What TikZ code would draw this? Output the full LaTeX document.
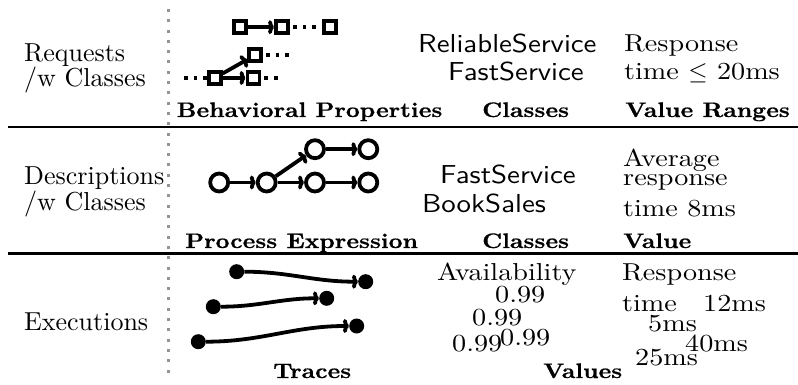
\documentclass[tikz,border=0pt]{standalone}
\usepackage{fontspec}
\setmainfont{lmroman10-regular.otf}[BoldFont=lmroman10-bold.otf]
\newfontfamily\valrm{lmroman10-regular.otf}[FakeStretch=1.15]
\newfontfamily\clssf{lmsans10-regular.otf}[FakeStretch=1.11]
\newfontfamily\capbf{lmroman10-bold.otf}[FakeStretch=1.15,FakeBold=0.6]
\usetikzlibrary{arrows.meta}
\newcommand\rowfont{\fontsize{26}{25}\selectfont}
\newcommand\valfont{\valrm\fontsize{24.5}{27.6}\selectfont}
\newcommand\clsfont{\clssf\fontsize{26}{28}\selectfont}
\newcommand\capfont{\capbf\fontsize{21}{20}\selectfont}
\begin{document}
\begin{tikzpicture}[x=1pt,y=-1pt,
  rowlbl/.style={font=\rowfont, inner sep=0pt, anchor=base west, align=left},
  clstxt/.style={font=\clsfont, inner sep=0pt, anchor=base west},
  valtxt/.style={font=\valfont, inner sep=0pt, anchor=base west, align=left},
  captxt/.style={font=\capfont, inner sep=0pt, anchor=base west},
  sqnode/.style={draw, line width=3.8pt, minimum size=12pt, inner sep=0pt},
  circnode/.style={draw, circle, line width=3.8pt, minimum size=18pt, inner sep=0pt},
  dotnode/.style={fill, circle, minimum size=15pt, inner sep=0pt},
  arr/.style={line width=3.8pt, -{To[length=6pt,width=14pt]}},
  dts/.style={line width=3.6pt, dash pattern=on 3.6pt off 6pt},
  sepline/.style={line width=2.8pt},
  vsep/.style={line width=3pt, black!42, dash pattern=on 3pt off 7.3pt},
]
\useasboundingbox (0,0) rectangle (798,385);
% separators
\coordinate (vt) at (168,9); \coordinate (vb) at (168,374);
\draw[vsep] (vt) -- (vb);
\coordinate (h1l) at (8,127); \coordinate (h1r) at (798,127);
\draw[sepline] (h1l) -- (h1r);
\coordinate (h2l) at (8,253.5); \coordinate (h2r) at (798,253.5);
\draw[sepline] (h2l) -- (h2r);
% row labels (base = last line)
\node[rowlbl] (rq) at (24,86.5) {Requests\\/w Classes};
\node[rowlbl] (ds) at (24,210) {Descriptions\\/w Classes};
\node[rowlbl] (ex) at (24,330) {Executions};
% row 1: behavioral properties
\node[sqnode] (A) at (240.3,27.2) {};
\node[sqnode] (B) at (282,27.2) {};
\node[sqnode] (C) at (329.7,27.2) {};
\node[sqnode] (D) at (255.3,55) {};
\node[sqnode] (E) at (214.7,78) {};
\node[sqnode] (F) at (253.5,78) {};
\coordinate (Dend) at (291,55);
\coordinate (Estart) at (184,78);
\coordinate (Fend) at (281,78);
\draw[arr] (A) -- (B);
\draw[dts, dash phase=-3pt] (B) -- (C);
\draw[dts, dash phase=-3pt] (D) -- (Dend);
\draw[dts] (Estart) -- (E);
\draw[dts, dash phase=-3pt] (F) -- (Fend);
\draw[arr] (E) -- (D);
\draw[arr] (E) -- (F);
\node[clstxt] (rs) at (418,53) {ReliableService};
\node[clstxt] (fs1) at (448,81) {FastService};
\node[valtxt] (rt) at (624,79.3) {Response\\time $\leq$ 20ms};
\node[captxt] (bp) at (176.5,117) {Behavioral Properties};
\node[captxt] (cl1) at (482,117) {Classes};
\node[captxt] (vr) at (625,117) {Value Ranges};
% row 2: process expression
\node[circnode] (c1) at (219.2,182.5) {};
\node[circnode] (c2) at (266.7,182.5) {};
\node[circnode] (c3) at (315,182.5) {};
\node[circnode] (c4) at (368.3,182.5) {};
\node[circnode] (u3) at (315,149.2) {};
\node[circnode] (u4) at (368.3,149.2) {};
\draw[arr] (c1) -- (c2);
\draw[arr] (c2) -- (c3);
\draw[arr] (c3) -- (c4);
\draw[arr] (c2) -- (u3);
\draw[arr] (u3) -- (u4);
\node[clstxt] (fs2) at (440,183) {FastService};
\node[clstxt] (bs) at (422,212) {BookSales};
\node[valtxt] (av) at (623,216.7) {Average\\[-9.3pt]response\\[4.1pt]time 8ms};
\node[captxt] (pe) at (185,248) {Process Expression};
\node[captxt] (cl2) at (482,248) {Classes};
\node[captxt] (vl) at (623,248) {Value};
% row 3: traces
\node[dotnode] (s1) at (236.7,271.7) {};
\node[dotnode] (t1) at (365.7,281.7) {};
\node[dotnode] (s2) at (213.3,306.7) {};
\node[dotnode] (t2) at (326.7,298.3) {};
\node[dotnode] (s3) at (198.3,341.7) {};
\node[dotnode] (t3) at (356.7,326) {};
\draw[arr] (s1) to[out=0,in=180] (t1);
\draw[arr] (s2) to[out=0,in=180] (t2);
\draw[arr] (s3) to[out=0,in=180] (t3);
\node[valtxt] (avl) at (437,280) {Availability};
\node[valtxt] (n1) at (495,302) {0.99};
\node[valtxt] (n2) at (472,325) {0.99};
\node[valtxt] (n3) at (452,351.7) {0.99};
\node[valtxt] (n4) at (500,345) {0.99};
\node[valtxt] (rt3) at (622,311.7) {Response\\[4.1pt]time};
\node[valtxt] (m12) at (703,311.7) {12ms};
\node[valtxt] (m5) at (648,331.7) {5ms};
\node[valtxt] (m40) at (685,351.7) {40ms};
\node[valtxt] (m25) at (635,365) {25ms};
\node[captxt] (tr) at (273,378) {Traces};
\node[captxt] (vs) at (543,378) {Values};
\end{tikzpicture}
\end{document}
